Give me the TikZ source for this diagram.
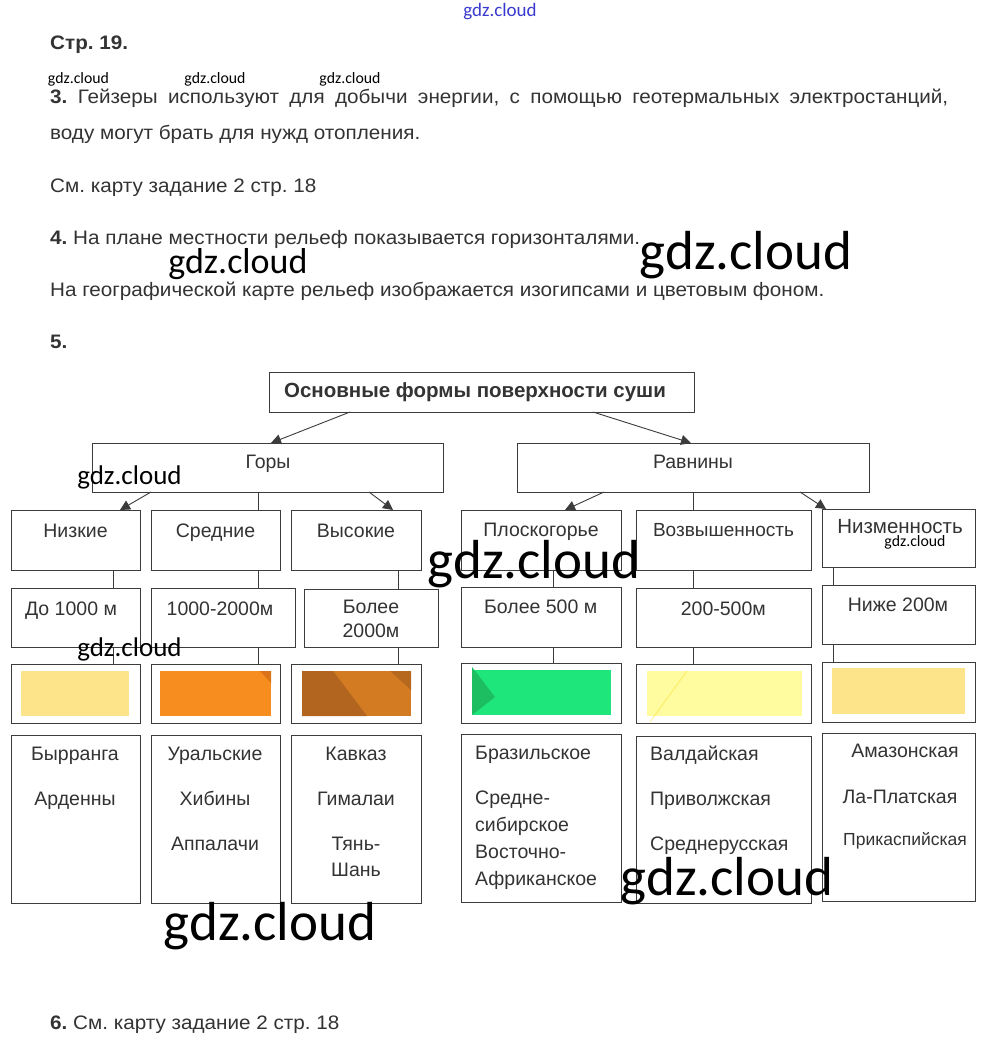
\documentclass[tikz,border=0pt]{standalone}
\usepackage{fontspec}
\setmainfont{Liberation Sans}
\newfontfamily\bodyfont[FakeStretch=1.06]{Liberation Sans}
\newfontfamily\wmfont{Carlito}
\usetikzlibrary{arrows.meta}
\definecolor{txt}{HTML}{333333}
\definecolor{lnc}{HTML}{3C3C3C}
\definecolor{wmblue}{HTML}{3A3AD0}
\definecolor{cyel}{HTML}{FDE38A}
\definecolor{corange}{HTML}{F78D1E}
\definecolor{corangeD}{HTML}{DB7418}
\definecolor{cbrown}{HTML}{D27B22}
\definecolor{cbrownD}{HTML}{B1651F}
\definecolor{cgreen}{HTML}{1EE67A}
\definecolor{cgreenD}{HTML}{1DBE62}
\definecolor{clight}{HTML}{FFFCA0}
\newcommand\mkrect[6]{\node[#1,minimum width={(#5)-(#3)},minimum height={(#6)-(#4)}] (#2) at ({((#3)+(#5))/2},{((#4)+(#6))/2}) {};}
\frenchspacing
\begin{document}
\begin{tikzpicture}[x=1pt,y=-1pt,
  box/.style={draw=lnc, line width=0.9pt, rectangle, inner sep=0pt, outer sep=0pt},
  sw/.style={fill=#1, draw=none, rectangle, inner sep=0pt, outer sep=0pt},
  lbl/.style={font=\fontsize{19.5}{22}\selectfont, text=txt, inner sep=0pt, anchor=base},
  body/.style={font=\bodyfont\fontsize{19.5}{22}\selectfont, text=txt, inner sep=0pt, anchor=base west},
  wm/.style={font=\wmfont\fontsize{#1}{#1}\selectfont, text=black, inner sep=0pt, anchor=base},
  arr/.style={draw=lnc, line width=0.9pt, -{Triangle[length=10pt,width=10pt]}},
  ln/.style={draw=lnc, line width=0.9pt}]
\useasboundingbox[fill=white] (0,0) rectangle (1000,1048);

% ---- text above
\node[body] (h19) at (50,50) {\textbf{Стр. 19.}};
\node[body] (p3a) at (50,104) {\makebox[898pt][s]{\textbf{3.} Гейзеры используют для добычи энергии, с помощью геотермальных электростанций,}};
\node[body] (p3b) at (50,139.5) {воду могут брать для нужд отопления.};
\node[body] (p3c) at (50,192.7) {См. карту задание 2 стр. 18};
\node[body] (p4a) at (50,245) {\textbf{4.} На плане местности рельеф показывается горизонталями.};
\node[body] (p4b) at (50,296.7) {На географической карте рельеф изображается изогипсами и цветовым фоном.};
\node[body] (p5) at (50,348.3) {\textbf{5.}};
\node[body] (p6) at (50,1029.3) {\textbf{6.} См. карту задание 2 стр. 18};

% ---- top levels
\mkrect{box}{title}{269}{372}{694}{412}
\mkrect{box}{gory}{92}{443}{443}{492}
\mkrect{box}{ravn}{517}{443}{869}{492}
\node[lbl, font=\bfseries\fontsize{20.5}{22}\selectfont] (ttitle) at (475,397) {Основные формы поверхности суши};
\node[lbl] (tgory) at (268,468) {Горы};
\node[lbl] (travn) at (693,468) {Равнины};

% ---- row 1
\mkrect{box}{nizkie}{11}{510}{140}{570}
\mkrect{box}{srednie}{151}{510}{280}{570}
\mkrect{box}{vysokie}{291}{510}{421}{570}
\mkrect{box}{plosk}{461}{510}{621}{570}
\mkrect{box}{vozv}{636}{510}{811}{570}
\mkrect{box}{nizm}{822}{509}{975}{567}
\node[lbl] (tnizkie) at (75.5,537) {Низкие};
\node[lbl] (tsrednie) at (215.5,537) {Средние};
\node[lbl] (tvysokie) at (356,537) {Высокие};
\node[lbl] (tplosk) at (541,536) {Плоскогорье};
\node[lbl, font=\fontsize{19}{22}\selectfont] (tvozv) at (723.5,536) {Возвышенность};
\node[lbl, font=\fontsize{20.5}{22}\selectfont] (tnizm) at (900,533) {Низменность};

% ---- row 2
\mkrect{box}{hA}{11}{588}{140}{647}
\mkrect{box}{hB}{151}{588}{295}{647}
\mkrect{box}{hC}{304}{589}{438}{647}
\mkrect{box}{hD}{461}{587}{621}{647}
\mkrect{box}{hE}{636}{588}{811}{647}
\mkrect{box}{hF}{822}{585}{975}{644}
\node[lbl] (thA) at (71,615) {До 1000 м};
\node[lbl] (thB) at (220,615) {1000-2000м};
\node[lbl] (thC1) at (371,613.3) {Более};
\node[lbl] (thC2) at (371,637.3) {2000м};
\node[lbl] (thD) at (540.7,613.3) {Более 500 м};
\node[lbl] (thE) at (723.3,615) {200-500м};
\node[lbl] (thF) at (898,611.7) {Ниже 200м};

% ---- row 3 (colour swatches)
\mkrect{box}{cA}{11}{664}{140}{723}
\mkrect{box}{cB}{151}{664}{280}{723}
\mkrect{box}{cC}{291}{664}{421}{723}
\mkrect{box}{cD}{461}{663}{621}{723}
\mkrect{box}{cE}{636}{664}{811}{723}
\mkrect{box}{cF}{822}{662}{975}{722}
\mkrect{sw=cyel}{sA}{21}{671}{129}{716}
\mkrect{sw=corange}{sB}{160}{671}{271}{716}
\fill[corangeD] (sB.north east) -- ++(-11,0) -- ++(11,12) -- cycle;
\mkrect{sw=cbrown}{sC}{302}{671}{411}{716}
\fill[cbrownD] (sC.north west) -- ++(31,0) -- ++(34,45) -- (sC.south west) -- cycle;
\fill[cbrownD!85!cbrown] (sC.north east) -- ++(-21,0) -- ++(21,19) -- cycle;
\mkrect{sw=cgreen}{sD}{472}{670}{611}{715}
\fill[cgreenD] ([yshift=3]sD.north west) -- ++(23,30) -- (sD.south west) -- cycle;
\mkrect{sw=clight}{sE}{647}{671}{802}{716}
\draw[yellow!70!orange, opacity=0.35, line width=1pt] ([xshift=3,yshift=-6]sE.south west) -- ([xshift=40]sE.north west);
\mkrect{sw=cyel}{sF}{832}{668}{965}{714}

% ---- row 4
\mkrect{box}{eA}{11}{735}{140}{903}
\mkrect{box}{eB}{151}{735}{280}{903}
\mkrect{box}{eC}{291}{735}{421}{903}
\mkrect{box}{eD}{461}{734}{621}{902}
\mkrect{box}{eE}{636}{736}{811}{903}
\mkrect{box}{eF}{822}{733}{975}{901}
\node[lbl] (eA1) at (75,760.7) {Бырранга};
\node[lbl] (eA2) at (75,805) {Арденны};
\node[lbl] (eB1) at (215,760.7) {Уральские};
\node[lbl] (eB2) at (215,805) {Хибины};
\node[lbl] (eB3) at (215,850) {Аппалачи};
\node[lbl] (eC1) at (356,760.7) {Кавказ};
\node[lbl] (eC2) at (356,805) {Гималаи};
\node[lbl] (eC3) at (356,850.7) {Тянь-};
\node[lbl] (eC4) at (356,876.7) {Шань};
\node[lbl, anchor=base west] (eD1) at (475,759.3) {Бразильское};
\node[lbl, anchor=base west] (eD2) at (475,804) {Средне-};
\node[lbl, anchor=base west] (eD3) at (475,831.7) {сибирское};
\node[lbl, anchor=base west] (eD4) at (475,858.3) {Восточно-};
\node[lbl, anchor=base west] (eD5) at (475,885) {Африканское};
\node[lbl, anchor=base west] (eE1) at (650,760) {Валдайская};
\node[lbl, anchor=base west] (eE2) at (650,805) {Приволжская};
\node[lbl, anchor=base west] (eE3) at (650,850) {Среднерусская};
\node[lbl] (eF1) at (905,757.3) {Амазонская};
\node[lbl] (eF2) at (900,803.3) {Ла-Платская};
\node[lbl, font=\fontsize{17.5}{18}\selectfont] (eF3) at (905,845) {Прикаспийская};

% ---- connectors
\coordinate (k1) at (350,0); \coordinate (k2) at (271,0);
\coordinate (k3) at (593,0); \coordinate (k4) at (691,0);
\coordinate (g1) at (151,0); \coordinate (g2) at (120,0);
\coordinate (g3) at (258,0);
\coordinate (g4) at (369,0); \coordinate (g5) at (393,0);
\coordinate (r1) at (604,0); \coordinate (r2) at (565,0);
\coordinate (r3) at (693,0);
\coordinate (r4) at (800,0); \coordinate (r5) at (826,0);
\coordinate (x1) at (113,0); \coordinate (x2) at (258,0); \coordinate (x3) at (398,0);
\coordinate (x4) at (553,0); \coordinate (x5) at (693,0); \coordinate (x6) at (833,0);

\draw[arr] (title.south -| k1) -- (gory.north -| k2);
\draw[arr] (title.south -| k3) -- (ravn.north -| k4);
\draw[arr] (gory.south -| g1) -- (nizkie.north -| g2);
\draw[ln]  (gory.south -| g3) -- (srednie.north -| g3);
\draw[arr] (gory.south -| g4) -- (vysokie.north -| g5);
\draw[arr] (ravn.south -| r1) -- (plosk.north -| r2);
\draw[ln]  (ravn.south -| r3) -- (vozv.north -| r3);
\draw[arr] (ravn.south -| r4) -- (nizm.north -| r5);

\draw[ln] (nizkie.south -| x1) -- (hA.north -| x1);
\draw[ln] (srednie.south -| x2) -- (hB.north -| x2);
\draw[ln] (vysokie.south -| x3) -- (hC.north -| x3);
\draw[ln] (plosk.south -| x4) -- (hD.north -| x4);
\draw[ln] (vozv.south -| x5) -- (hE.north -| x5);
\draw[ln] (nizm.south -| x6) -- (hF.north -| x6);
\draw[ln] (hA.south -| x1) -- (cA.north -| x1);
\draw[ln] (hB.south -| x2) -- (cB.north -| x2);
\draw[ln] (hC.south -| x3) -- (cC.north -| x3);
\draw[ln] (hD.south -| x4) -- (cD.north -| x4);
\draw[ln] (hE.south -| x5) -- (cE.north -| x5);
\draw[ln] (hF.south -| x6) -- (cF.north -| x6);

% ---- watermarks
\node[wm=19, text=wmblue] (wm0) at (500,16.7) {gdz.cloud};
\node[wm=15.8] (wm1) at (78.5,83.3) {gdz.cloud};
\node[wm=15.8] (wm2) at (215,83.3) {gdz.cloud};
\node[wm=15.8] (wm3) at (350,83.3) {gdz.cloud};
\node[wm=36] (wm4) at (238,274) {gdz.cloud};
\node[wm=55] (wm5) at (746,270) {gdz.cloud};
\node[wm=27] (wm6) at (129.5,484) {gdz.cloud};
\node[wm=55] (wm7) at (534,578.3) {gdz.cloud};
\node[wm=15.8] (wm8) at (915,546.7) {gdz.cloud};
\node[wm=27] (wm9) at (129.5,656.7) {gdz.cloud};
\node[wm=55] (wm10) at (270,940) {gdz.cloud};
\node[wm=55] (wm11) at (727,895) {gdz.cloud};
\end{tikzpicture}
\end{document}
